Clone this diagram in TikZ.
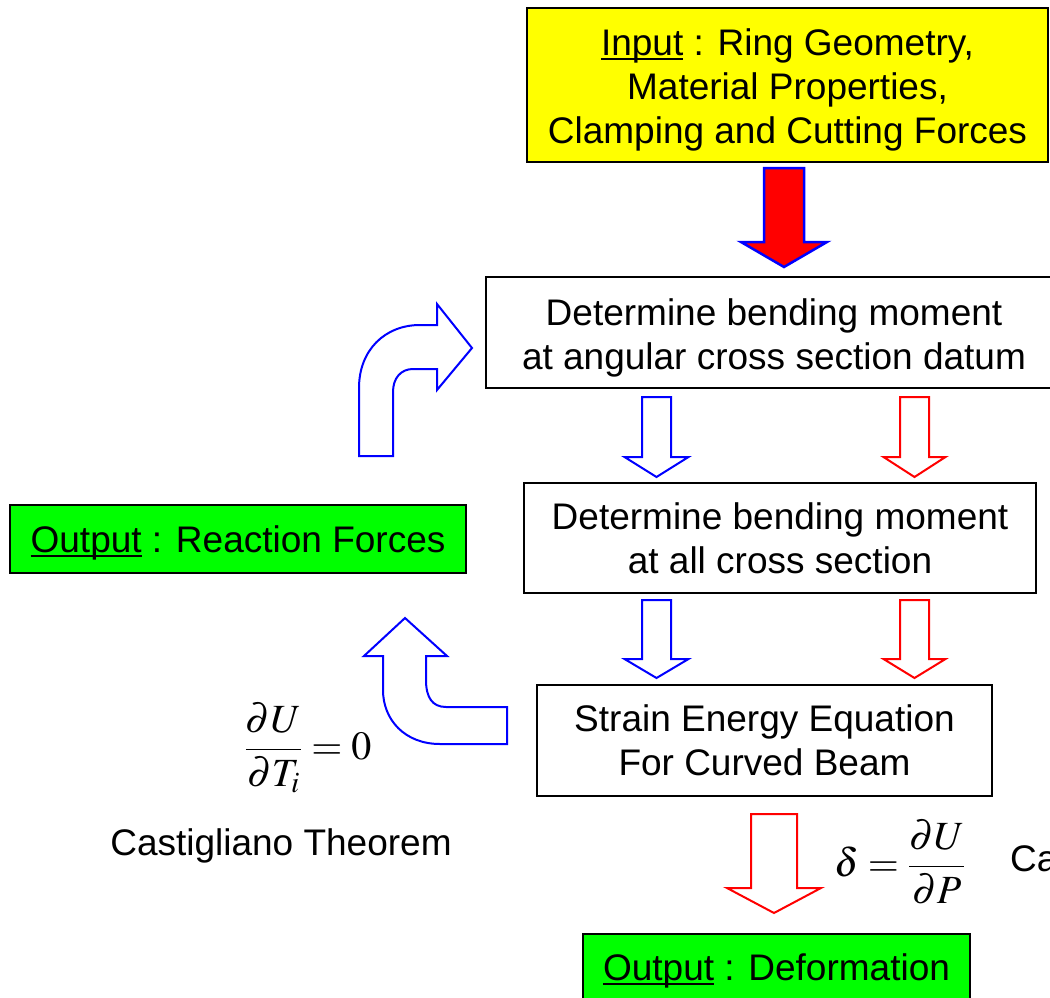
\documentclass[tikz,border=0pt]{standalone}
\usepackage{mathptmx}
\usepackage{fontspec}
\setmainfont{Liberation Sans}
\definecolor{yel}{RGB}{255,255,0}
\definecolor{grn}{RGB}{0,255,0}
\definecolor{blu}{RGB}{0,0,255}
\definecolor{rd}{RGB}{255,0,0}
\newcommand\myul[1]{\setbox0\hbox{#1}\rlap{\rule[-4.5pt]{\wd0}{2.5pt}}\box0\relax}
\newcommand\tallstrut[1]{\rule{0pt}{#1}}
% #1 style, #2 cx, #3 ytop, #4 yhead, #5 ytip, #6 half shaft, #7 half head
\newcommand\bdarrow[7]{\draw[#1] (#2-#6,#3) -- (#2+#6,#3) -- (#2+#6,#4) -- (#2+#7,#4) -- (#2,#5) -- (#2-#7,#4) -- (#2-#6,#4) -- cycle;}
\tikzset{
  box/.style={draw=black, line width=2pt, inner sep=0pt, align=center, font=\fontsize{37}{44}\selectfont},
  lbl/.style={inner sep=0pt, font=\fontsize{37}{44}\selectfont},
  mth/.style={inner sep=0pt, font=\fontsize{40}{48}\selectfont},
  bluearrow/.style={draw=blu, line width=2pt, fill=white, line join=miter},
  redarrow/.style={draw=rd, line width=2pt, fill=white, line join=miter},
  bigarrow/.style={draw=blu, line width=2.5pt, fill=rd, line join=miter},
}
\begin{document}
\begin{tikzpicture}[x=1pt,y=-1pt]
\useasboundingbox (0,0) rectangle (1050,998);
\clip (0,0) rectangle (1050,998);
\fill[white] (0,0) rectangle (1050,998);
% boxes
\node[box, fill=yel, minimum width=521pt, minimum height=154pt] (input) at (787.5,85)
  {\tallstrut{37pt}\myul{Input} : Ring Geometry,\\ Material Properties,\\ Clamping and Cutting Forces};
\node[box, minimum width=576pt, minimum height=111pt] (bma) at (774,332.5)
  {\tallstrut{37pt}Determine bending moment\\ at angular cross section datum};
\node[box, minimum width=512pt, minimum height=110pt] (bmb) at (780,538)
  {Determine bending moment\\ at all cross section};
\node[box, minimum width=455pt, minimum height=111pt] (se) at (764.5,740.5)
  {Strain Energy Equation\\ For Curved Beam};
\node[box, fill=grn, minimum width=456pt, minimum height=68pt] (outr) at (238,539)
  {\tallstrut{35pt}\myul{Output} : Reaction Forces};
\node[box, fill=grn, minimum width=387pt, minimum height=74pt] (outd) at (776.5,971)
  {\myul{Output} : Deformation};
% equations and labels
\node[mth] (eqT) at (308,748) {$\displaystyle\frac{\partial U}{\partial T_i}=0$};
\node[lbl] (castL) at (281,846) {Castigliano Theorem};
\node[mth] (eqP) at (900,862) {$\displaystyle\delta=\frac{\partial U}{\partial P}$};
\node[lbl, anchor=west] (castR) at (1010,862) {Castigliano Theorem};
% block arrows
\bdarrow{bigarrow}{784}{168}{242}{267}{20}{43}
\bdarrow{bluearrow}{656.5}{397}{457}{477}{14.5}{32}
\bdarrow{redarrow}{914.5}{397}{457}{477}{14.5}{31}
\bdarrow{bluearrow}{656.5}{600}{659}{678}{14.5}{32}
\bdarrow{redarrow}{914.5}{600}{659}{678}{14.5}{31}
\bdarrow{redarrow}{774}{814}{888}{913}{23}{47}
% curved arrow up-right
\draw[bluearrow] (359,456) -- (359,388) .. controls (359,350) and (385,325) .. (420,325)
  -- (437,325) -- (437,304) -- (472,348) -- (437,390) -- (437,369) -- (413,369)
  .. controls (401,369) and (393,378) .. (393,392) -- (393,456) -- cycle;
% curved arrow left-up
\draw[bluearrow] (405,618) -- (447,656) -- (426,656) -- (426,680)
  .. controls (426,697) and (432,707) .. (446,707) -- (507,707) -- (507,744) -- (440,744)
  .. controls (405,744) and (383,720) .. (383,690) -- (383,656) -- (364,656) -- cycle;
\end{tikzpicture}
\end{document}
